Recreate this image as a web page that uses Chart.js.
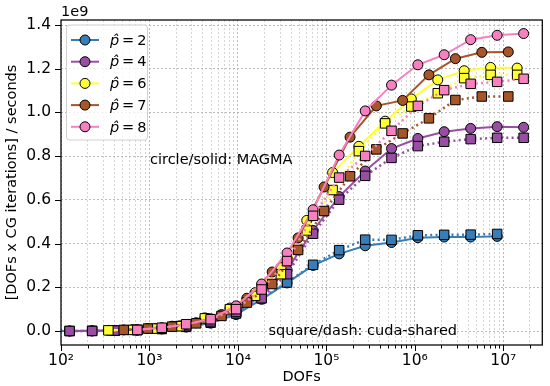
<!DOCTYPE html>
<html>
<head>
<meta charset="utf-8">
<script src="https://cdn.jsdelivr.net/npm/chart.js@4.4.0/dist/chart.umd.min.js"></script>
<style>
  html, body { margin: 0; padding: 0; background: #fff; }
  #wrap { width: 550px; height: 386px; }
</style>
</head>
<body>
<div id="wrap"><canvas id="chart" width="550" height="386"></canvas></div>
<script>
'use strict';
// DOFs for each polynomial degree
var dofsP2 = [27, 45, 75, 125, 225, 405, 729, 1377, 2601, 4913, 9537, 18513, 35937, 70785, 139425,
  274625, 545025, 1081665, 2146689, 4276737, 8520321];
var dofsP4 = [125, 225, 405, 729, 1377, 2601, 4913, 9537, 18513, 35937, 70785, 139425, 274625,
  545025, 1081665, 2146689, 4276737, 8520321, 16974593];
var dofsP6 = [343, 637, 1183, 2197, 4225, 8125, 15625, 30625, 60025, 117649, 232897, 461041,
  912673, 1815937, 3613153, 7189057, 14340865];
var dofsP7 = [512, 960, 1800, 3375, 6525, 12615, 24389, 47937, 94221, 185193, 367137, 727833,
  1442897, 2873025, 5720625, 11390625];
var dofsP8 = [729, 1377, 2601, 4913, 9537, 18513, 35937, 70785, 139425, 274625, 545025, 1081665,
  2146689, 4276737, 8520321, 16974593];

// throughput in units of 1e9 [DOFs x CG iterations] / seconds
var magmaP2 = [0.0, 0.0, 0.0, 0.0, 0.001, 0.002, 0.004, 0.009, 0.018, 0.036, 0.075, 0.145, 0.22,
  0.30, 0.353, 0.39, 0.405, 0.427, 0.43, 0.43, 0.433];
var cudaP2 = [0.0, 0.0, 0.0, 0.0, 0.001, 0.002, 0.004, 0.009, 0.019, 0.038, 0.08, 0.15, 0.222,
  0.303, 0.37, 0.418, 0.417, 0.438, 0.44, 0.441, 0.444];
var magmaP4 = [0.0, 0.0, 0.002, 0.005, 0.011, 0.023, 0.045, 0.09, 0.16, 0.28, 0.46, 0.615, 0.732,
  0.835, 0.881, 0.912, 0.927, 0.935, 0.932];
var cudaP4 = [0.0, 0.0, 0.002, 0.005, 0.011, 0.022, 0.044, 0.087, 0.15, 0.26, 0.445, 0.601, 0.71,
  0.792, 0.846, 0.866, 0.878, 0.884, 0.884];
var magmaP6 = [0.003, 0.006, 0.012, 0.024, 0.06, 0.105, 0.175, 0.29, 0.506, 0.725, 0.845, 0.96,
  1.062, 1.149, 1.191, 1.206, 1.203];
var cudaP6 = [0.003, 0.005, 0.011, 0.022, 0.058, 0.1, 0.161, 0.26, 0.46, 0.645, 0.823, 0.95,
  1.027, 1.088, 1.157, 1.172, 1.172];
var magmaP7 = [0.005, 0.012, 0.022, 0.038, 0.075, 0.15, 0.27, 0.426, 0.659, 0.887, 1.03, 1.055,
  1.172, 1.246, 1.275, 1.277];
var cudaP7 = [0.005, 0.011, 0.02, 0.035, 0.069, 0.13, 0.215, 0.371, 0.549, 0.708, 0.831, 0.904,
  0.973, 1.057, 1.073, 1.073];
var magmaP8 = [0.006, 0.015, 0.03, 0.056, 0.115, 0.215, 0.357, 0.555, 0.805, 1.007, 1.125, 1.218,
  1.264, 1.333, 1.353, 1.361];
var cudaP8 = [0.005, 0.015, 0.031, 0.054, 0.1, 0.19, 0.32, 0.527, 0.702, 0.801, 0.916, 1.03,
  1.102, 1.131, 1.14, 1.154];

var degrees = ['2', '4', '6', '7', '8'];
var yTicks = [0, 0.2, 0.4, 0.6, 0.8, 1.0, 1.2, 1.4];
var xDecades = [2, 3, 4, 5, 6, 7];
var supers = {'2': '\u00b2', '3': '\u00b3', '4': '\u2074', '5': '\u2075', '6': '\u2076', '7': '\u2077'};

var colors = ['#377eb8', '#984ea3', '#ffff33', '#a65628', '#f781bf'];
var FONT = "'DejaVu Sans', sans-serif";
var X_MIN = 100, X_MAX = 2.76e7;

var groups = [
  {dofs: dofsP2, magma: magmaP2, cuda: cudaP2},
  {dofs: dofsP4, magma: magmaP4, cuda: cudaP4},
  {dofs: dofsP6, magma: magmaP6, cuda: cudaP6},
  {dofs: dofsP7, magma: magmaP7, cuda: cudaP7},
  {dofs: dofsP8, magma: magmaP8, cuda: cudaP8}
];

function pts(xs, ys) {
  return xs.map(function(x, i) { return {x: x, y: ys[i]}; });
}

var datasets = [];
groups.forEach(function(g, i) {
  datasets.push({
    label: 'p=' + degrees[i] + ' MAGMA',
    data: pts(g.dofs, g.magma),
    borderColor: colors[i], backgroundColor: colors[i],
    borderWidth: 2,
    pointStyle: 'circle', pointRadius: 5,
    pointBackgroundColor: colors[i], pointBorderColor: '#000', pointBorderWidth: 1
  });
  datasets.push({
    label: 'p=' + degrees[i] + ' cuda-shared',
    data: pts(g.dofs, g.cuda),
    borderColor: colors[i], backgroundColor: colors[i],
    borderWidth: 2.5, borderDash: [2, 3.3],
    pointStyle: 'rect', pointRadius: 6.7,
    pointBackgroundColor: colors[i], pointBorderColor: '#000', pointBorderWidth: 1
  });
});
// later datasets on top, like matplotlib
datasets.forEach(function(d, i) { d.order = datasets.length - i; });

// x ticks: decades plus minor 2..9
var xTickList = [];
xDecades.forEach(function(e) {
  for (var m = 1; m <= 9; m++) {
    var v = m * Math.pow(10, e);
    if (v <= X_MAX) xTickList.push({value: v, major: m === 1, exp: e});
  }
});

var decorations = {
  id: 'decorations',
  afterDraw: function(chart) {
    var ctx = chart.ctx, a = chart.chartArea;
    var xs = chart.scales.x, ys = chart.scales.y;
    ctx.save();
    // tick marks (outward)
    ctx.strokeStyle = '#000';
    ctx.lineWidth = 1;
    xs.ticks.forEach(function(t) {
      var px = Math.round(xs.getPixelForValue(t.value)) + 0.5;
      var len = t.major ? 6 : 3.5;
      ctx.beginPath(); ctx.moveTo(px, a.bottom); ctx.lineTo(px, a.bottom + len); ctx.stroke();
    });
    ys.ticks.forEach(function(t) {
      var py = Math.round(ys.getPixelForValue(t.value)) + 0.5;
      ctx.beginPath(); ctx.moveTo(a.left, py); ctx.lineTo(a.left - 6, py); ctx.stroke();
    });
    // frame
    ctx.lineWidth = 1.25;
    ctx.strokeRect(a.left, a.top, a.right - a.left, a.bottom - a.top);

    // texts
    ctx.fillStyle = '#000';
    ctx.font = '14.5px ' + FONT;
    ctx.textBaseline = 'alphabetic';
    ctx.textAlign = 'left';
    ctx.fillText('1e9', a.left, a.top - 4);
    ctx.textBaseline = 'middle';
    ctx.fillText('circle/solid: MAGMA', 150, 160);
    ctx.textAlign = 'right';
    ctx.fillText('square/dash: cuda-shared', 457, 331);

    // legend
    var lx = 66.5, ly = 25, lw = 81, lh = 115;
    ctx.beginPath();
    if (ctx.roundRect) ctx.roundRect(lx, ly, lw, lh, 3); else ctx.rect(lx, ly, lw, lh);
    ctx.fillStyle = 'rgba(255,255,255,0.8)';
    ctx.fill();
    ctx.strokeStyle = '#d0d0d0';
    ctx.lineWidth = 1;
    ctx.stroke();
    degrees.forEach(function(d, i) {
      var y = 40 + i * 21.7;
      ctx.strokeStyle = colors[i];
      ctx.lineWidth = 2;
      ctx.setLineDash([]);
      ctx.beginPath(); ctx.moveTo(71, y); ctx.lineTo(99, y); ctx.stroke();
      ctx.beginPath(); ctx.arc(85, y, 5, 0, Math.PI * 2);
      ctx.fillStyle = colors[i]; ctx.fill();
      ctx.strokeStyle = '#000'; ctx.lineWidth = 1; ctx.stroke();
      ctx.fillStyle = '#000';
      ctx.textAlign = 'left';
      ctx.textBaseline = 'middle';
      ctx.font = 'italic 14.5px ' + FONT;
      ctx.fillText('p\u0302', 110, y + 1);
      var w = ctx.measureText('p').width;
      ctx.font = '14.5px ' + FONT;
      ctx.fillText('\u2009=\u2009' + d, 110 + w, y + 1);
    });
    ctx.restore();
  }
};

new Chart(document.getElementById('chart'), {
  type: 'line',
  data: {datasets: datasets},
  options: {
    responsive: false,
    animation: false,
    events: [],
    layout: {padding: {left: 0, right: 2, top: 20, bottom: 0}},
    plugins: {legend: {display: false}, tooltip: {enabled: false}},
    elements: {line: {tension: 0}},
    scales: {
      x: {
        type: 'logarithmic',
        min: X_MIN, max: X_MAX,
        afterBuildTicks: function(s) {
          s.ticks = xTickList.map(function(t) { return {value: t.value, major: t.major, exp: t.exp}; });
        },
        afterFit: function(s) {
          s.height = 41;
          s.paddingLeft = 0; s.paddingRight = 0; s.paddingTop = 0; s.paddingBottom = 0;
        },
        grid: {
          color: function(c) { return c.tick && c.tick.major ? '#b8b8b8' : '#d4d4d4'; },
          lineWidth: 1,
          drawTicks: false
        },
        border: {display: false, dash: [2, 2]},
        ticks: {
          autoSkip: false, maxRotation: 0, padding: 7,
          color: '#000', font: {size: 15.5, family: FONT},
          callback: function(v, i) {
            var t = xTickList[i];
            return t && t.major ? '10' + supers[String(t.exp)] : '';
          }
        },
        title: {display: true, text: 'DOFs', color: '#000', font: {size: 14.5, family: FONT},
          padding: {top: 0, bottom: 0}}
      },
      y: {
        min: -0.064, max: 1.423,
        afterBuildTicks: function(s) {
          s.ticks = yTicks.map(function(v) { return {value: v}; });
        },
        afterFit: function(s) {
          s.width = 61;
          s.paddingLeft = 0; s.paddingRight = 0; s.paddingTop = 0; s.paddingBottom = 0;
        },
        grid: {color: '#b8b8b8', lineWidth: 1, drawTicks: false},
        border: {display: false, dash: [2, 2]},
        ticks: {
          padding: 10, color: '#000', font: {size: 15.5, family: FONT},
          callback: function(v) { return v.toFixed(1); }
        },
        title: {display: true, text: '[DOFs x CG iterations] / seconds', color: '#000',
          font: {size: 14.5, family: FONT}, padding: {top: 4, bottom: 0}}
      }
    }
  },
  plugins: [decorations]
});
</script>
</body>
</html>
